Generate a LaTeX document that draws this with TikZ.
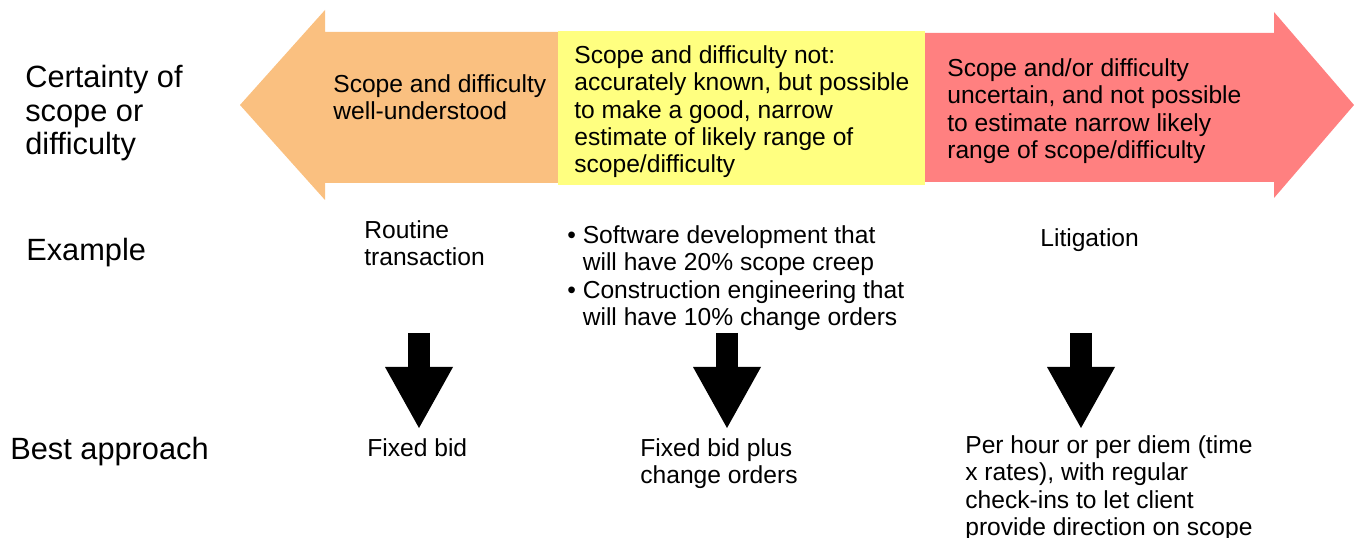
\documentclass[tikz,border=0pt]{standalone}
\usepackage{fontspec}
\setmainfont{Liberation Sans}
\usetikzlibrary{arrows.meta,positioning}

\definecolor{easyorange}{RGB}{250,192,128}
\definecolor{midyellow}{RGB}{255,255,128}
\definecolor{hardred}{RGB}{255,128,128}

\begin{document}
\begin{tikzpicture}[
  x=0.2mm, y=-0.2mm,
  rowlabel/.style={anchor=north west, inner sep=0pt, align=left, font=\fontsize{17.5}{19}\selectfont},
  txt/.style={anchor=north west, inner sep=0pt, align=left, font=\fontsize{14}{15.6}\selectfont},
  down/.style={line width=4.4mm, -{Triangle[length=12.2mm, width=13.6mm, line width=0pt]}},
]
  \useasboundingbox (0,0) rectangle (1354,538);

  % certainty band
  \fill[easyorange] (558,32) -- (325,32) -- (325,10) -- (240,105) -- (325,200) -- (325,183) -- (558,183) -- cycle;
  \fill[midyellow] (558,31) rectangle (925,185);
  \fill[hardred] (925,33) -- (1274,33) -- (1274,12) -- (1354,105) -- (1274,198) -- (1274,182) -- (925,182) -- cycle;

  % row labels
  \node[rowlabel] (certainty) at (25,65) {Certainty of\\scope or\\difficulty};
  \node[rowlabel] (example) at (26,238) {Example};
  \node[rowlabel] (approach) at (10,437) {Best approach};

  \node[txt] (known) at (333,74) {Scope and difficulty\\well-understood};
  \node[txt] (narrow) at (574,45) {Scope and difficulty not:\\accurately known, but possible\\to make a good, narrow\\estimate of likely range of\\scope/difficulty};
  \node[txt] (uncertain) at (947,58) {Scope and/or difficulty\\uncertain, and not possible\\to estimate narrow likely\\range of scope/difficulty};

  % examples
  \node[txt] (routine) at (364,220) {Routine\\transaction};
  \node[txt] (software) at (567,225) {\textbullet\ Software development that\\\phantom{\textbullet\ }will have 20\% scope creep\\\textbullet\ Construction engineering that\\\phantom{\textbullet\ }will have 10\% change orders};
  \node[txt] (litigation) at (1040,228) {Litigation};

  % approaches
  \node[txt] (fixed) at (367,438) {Fixed bid};
  \node[txt] (fixedplus) at (640,438) {Fixed bid plus\\change orders};
  \node[txt] (perhour) at (965,435) {Per hour or per diem (time\\x rates), with regular\\check-ins to let client\\provide direction on scope};

  \coordinate (from1) at (419,333);
  \coordinate (to1) at (419,428);
  \coordinate (from2) at (727,333);
  \coordinate (to2) at (727,428);
  \coordinate (from3) at (1081,333);
  \coordinate (to3) at (1081,428);

  \draw[down] (from1) -- (to1);
  \draw[down] (from2) -- (to2);
  \draw[down] (from3) -- (to3);
\end{tikzpicture}
\end{document}
